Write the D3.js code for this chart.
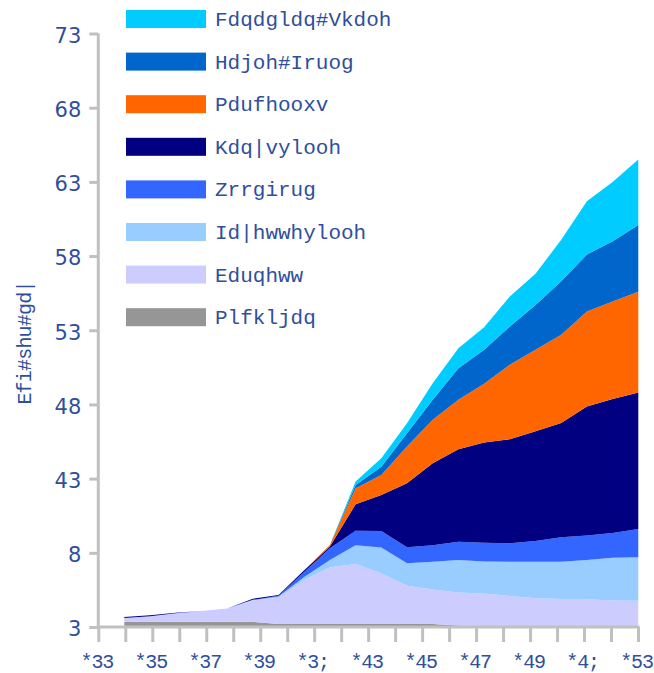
<!DOCTYPE html>
<html>
<head>
<meta charset="utf-8">
<script src="https://cdn.jsdelivr.net/npm/d3@7"></script>
<style>
  body { margin: 0; background: #fff; }
  svg { display: block; }
</style>
</head>
<body>
<script>
// Data (values in the chart's own units, 0-40)
const years = [2000, 2001, 2002, 2003, 2004, 2005, 2006, 2007, 2008, 2009, 2010,
               2011, 2012, 2013, 2014, 2015, 2016, 2017, 2018, 2019, 2020];

const michigan    = [0.35, 0.35, 0.35, 0.35, 0.35, 0.35, 0.2, 0.2, 0.2, 0.2, 0.2, 0.2, 0.2, 0.1, 0.05, 0.05, 0.05, 0.05, 0.05, 0.05, 0.05];
const barnett     = [0.26, 0.37, 0.57, 0.73, 0.89, 1.43, 1.77, 2.97, 3.83, 4.05, 3.42, 2.58, 2.32, 2.23, 2.2, 2.04, 1.88, 1.84, 1.82, 1.73, 1.72];
const fayetteville = [0, 0, 0, 0, 0, 0.05, 0.08, 0.2, 0.49, 1.26, 1.74, 1.52, 1.87, 2.19, 2.17, 2.31, 2.47, 2.51, 2.65, 2.89, 2.93];
const woodford    = [0, 0, 0, 0, 0, 0, 0.05, 0.34, 0.78, 0.97, 1.11, 1.07, 1.12, 1.22, 1.26, 1.24, 1.4, 1.65, 1.64, 1.67, 1.9];
const haynesville = [0.07, 0.08, 0.04, 0, 0, 0.08, 0.06, 0.12, 0.12, 1.79, 2.43, 4.32, 5.53, 6.24, 6.75, 7.02, 7.4, 7.7, 8.7, 9.02, 9.2];
const marcellus   = [0, 0, 0, 0, 0, 0, 0, 0, 0.1, 1.08, 1.35, 2.47, 2.92, 3.33, 3.97, 5.01, 5.48, 5.94, 6.4, 6.58, 6.8];
const eagleFord   = [0, 0, 0, 0, 0, 0, 0, 0, 0, 0.22, 0.55, 0.9, 1.35, 2.13, 2.28, 2.58, 3.02, 3.61, 3.84, 4.06, 4.5];
const canadian    = [0, 0, 0, 0, 0, 0, 0, 0, 0, 0.23, 0.57, 0.68, 1.12, 1.35, 1.52, 2.02, 2.1, 2.8, 3.6, 4.0, 4.4];

// series, bottom to top
const seriesKeys   = ["michigan", "barnett", "fayetteville", "woodford", "haynesville", "marcellus", "eagleFord", "canadian"];
const seriesLabels = ["Plfkljdq", "Eduqhww", "Id|hwwhylooh", "Zrrgirug", "Kdq|vylooh", "Pdufhooxv", "Hdjoh#Iruog", "Fdqdgldq#Vkdoh"];
const seriesColors = ["#969696", "#ccccff", "#99ccff", "#3366ff", "#000080", "#ff6600", "#0066cc", "#00ccff"];

const yTickValues = [0, 5, 10, 15, 20, 25, 30, 35, 40];
const yTickLabels = ["3", "8", "43", "48", "53", "58", "63", "68", "73"];
const xTickYears  = years;
const xLabelMap = { 2000: "*33", 2002: "*35", 2004: "*37", 2006: "*39", 2008: "*3;",
                    2010: "*43", 2012: "*45", 2014: "*47", 2016: "*49", 2018: "*4;", 2020: "*53" };
const yAxisTitle = "Efi#shu#gd|";

// build rows for d3.stack
const columns = { michigan, barnett, fayetteville, woodford, haynesville, marcellus, eagleFord, canadian };
const rows = years.map((yr, i) => {
    const r = { year: yr };
    seriesKeys.forEach(k => { r[k] = columns[k][i]; });
    return r;
});

// Set up the dimensions of the chart
const width = 654, height = 673;
const margin = { top: 33.5, right: 16, bottom: 46, left: 98.3 };
const textColor = "#2f4f9c";
const axisColor = "#c0c0c0";

const svg = d3.select("body")
    .append("svg")
    .attr("width", width)
    .attr("height", height);

// axis scale (tick marks) and data scale (plotted points sit between ticks)
const xAxisScale = d3.scaleLinear()
    .domain([2000, 2020])
    .range([margin.left, width - margin.right]);

const xData = d3.scaleLinear()
    .domain([2000, 2020])
    .range([124.3, 638.3]);

const yScale = d3.scaleLinear()
    .domain([0, 40])
    .range([height - margin.bottom, margin.top]);

const stack = d3.stack().keys(seriesKeys);
const stacked = stack(rows);

const area = d3.area()
    .x(d => xData(d.data.year))
    .y0(d => yScale(d[0]))
    .y1(d => yScale(d[1]));

svg.append("g")
    .selectAll("path")
    .data(stacked)
    .enter()
    .append("path")
    .attr("d", area)
    .style("fill", (d, i) => seriesColors[i])
    .style("stroke", "none");

// x axis
const xAxis = d3.axisBottom(xAxisScale)
    .tickValues(xTickYears)
    .tickSize(15)
    .tickFormat(d => xLabelMap[d] || "");

const gx = svg.append("g")
    .attr("transform", "translate(0," + yScale(0) + ")")
    .call(xAxis);
gx.select(".domain").remove();
gx.append("line")
    .attr("x1", margin.left - 1.5)
    .attr("x2", xAxisScale(2020) + 1.5)
    .attr("stroke", axisColor)
    .attr("stroke-width", 3);
gx.selectAll(".tick line")
    .attr("stroke", axisColor)
    .attr("stroke-width", 3);
gx.selectAll(".tick text")
    .attr("y", 27)
    .attr("dy", "0.71em")
    .attr("dx", -2)
    .style("font-family", "'Liberation Mono', monospace")
    .style("font-size", "20px")
    .style("letter-spacing", "-1.2px")
    .style("fill", textColor);

// y axis
const yAxis = d3.axisLeft(yScale)
    .tickValues(yTickValues)
    .tickSize(9)
    .tickFormat((d, i) => yTickLabels[i]);

const gy = svg.append("g")
    .attr("transform", "translate(" + margin.left + ",0)")
    .call(yAxis);
gy.select(".domain").remove();
gy.append("line")
    .attr("y1", yScale(40))
    .attr("y2", yScale(0))
    .attr("stroke", axisColor)
    .attr("stroke-width", 3);
gy.selectAll(".tick line")
    .attr("stroke", axisColor)
    .attr("stroke-width", 3);
gy.selectAll(".tick text")
    .attr("x", -17)
    .attr("dy", "0.42em")
    .style("font-family", "'DejaVu Sans', Verdana, sans-serif")
    .style("font-size", "21px")
    .style("fill", textColor);

// y axis title
svg.append("text")
    .attr("transform", "translate(31," + 343 + ") rotate(-90)")
    .attr("text-anchor", "middle")
    .style("font-family", "'Liberation Mono', monospace")
    .style("font-size", "20px")
    .style("letter-spacing", "-0.8px")
    .style("fill", textColor)
    .text(yAxisTitle);

// legend (top to bottom = reverse of stack order)
const legendItems = seriesKeys.map((k, i) => ({ label: seriesLabels[i], color: seriesColors[i] })).reverse();

const legend = svg.append("g")
    .attr("class", "legend")
    .attr("transform", "translate(126,19)");

const li = legend.selectAll("g")
    .data(legendItems)
    .enter()
    .append("g")
    .attr("transform", (d, i) => "translate(0," + (i * 42.6) + ")");

li.append("rect")
    .attr("x", 0)
    .attr("y", -9)
    .attr("width", 80)
    .attr("height", 18)
    .style("fill", d => d.color);

li.append("text")
    .attr("x", 89)
    .attr("y", 7)
    .style("font-family", "'Liberation Mono', monospace")
    .style("font-size", "21px")
    .style("fill", textColor)
    .text(d => d.label);
</script>
</body>
</html>
